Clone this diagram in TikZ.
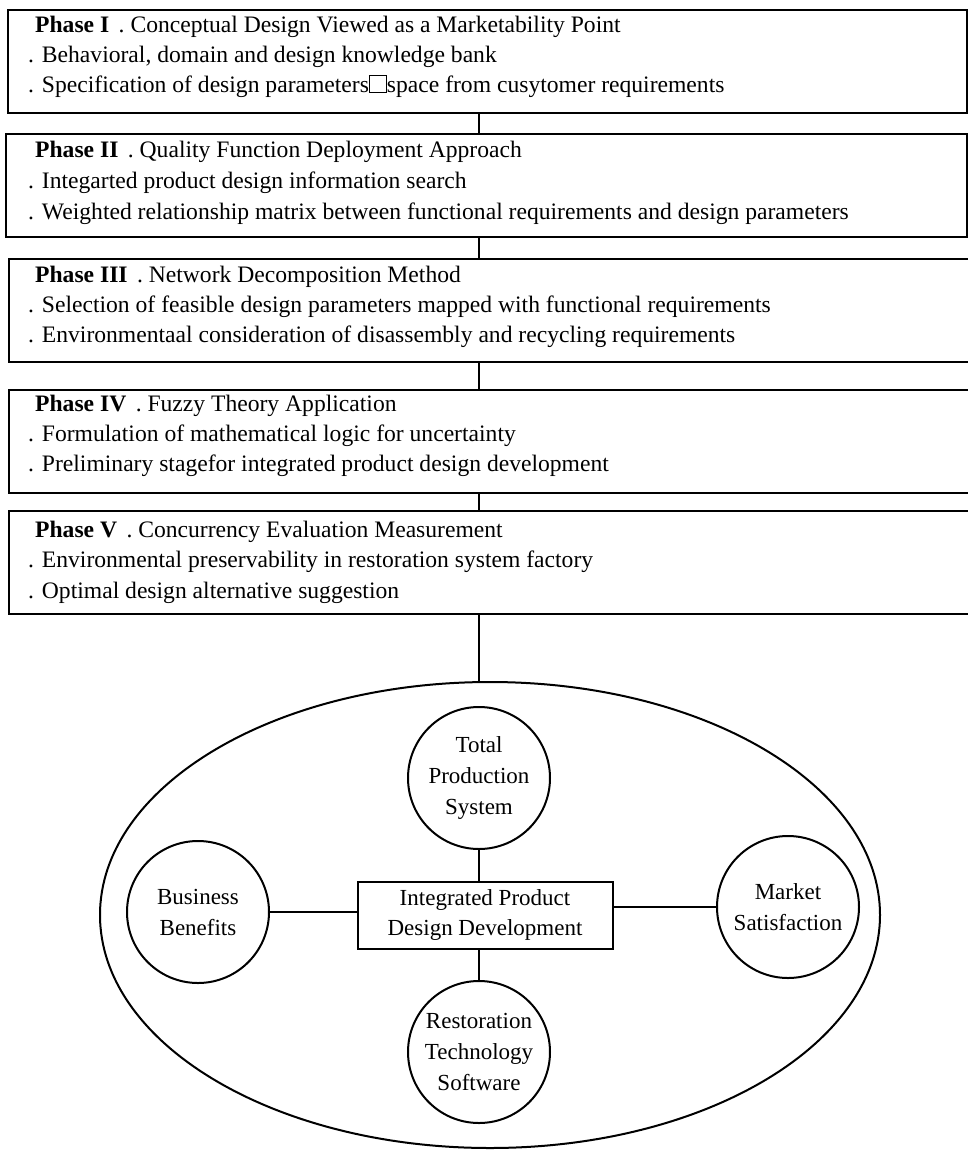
\documentclass[tikz,border=0pt]{standalone}
\usepackage{fontspec}
\setmainfont{Liberation Serif}
\usetikzlibrary{shapes.geometric}
\newcommand{\missingglyph}{{\fboxsep=0pt\fboxrule=1pt\fbox{\rule{0pt}{16pt}\hspace{16pt}}}}
\newcommand{\phasegap}{\hspace{0.4em}}
\begin{document}
\begin{tikzpicture}[x=1pt,y=-1pt,
  phasebox/.style={draw, line width=2.4pt, minimum height=103pt, inner sep=0pt, anchor=north west},
  txt/.style={anchor=base west, inner sep=0pt, font=\fontsize{23.6}{30}\selectfont},
  circ/.style={draw, circle, line width=2pt, minimum size=142pt, inner sep=0pt, align=center, font=\fontsize{23}{31}\selectfont},
  centre/.style={draw, rectangle, line width=2pt, minimum width=255pt, minimum height=67pt, inner sep=0pt, align=center, font=\fontsize{23}{30}\selectfont},
  link/.style={line width=2.2pt}]
\useasboundingbox (0,0) rectangle (968,1152);
\clip (0,0) rectangle (968,1152);

% phase boxes
\node[phasebox, minimum width=959pt] (b1) at (7,9) {};
\node[phasebox, minimum width=961pt] (b2) at (5,133) {};
\node[phasebox, minimum width=990pt] (b3) at (8,258) {};
\node[phasebox, minimum width=990pt] (b4) at (8,389) {};
\node[phasebox, minimum width=990pt] (b5) at (8,510) {};

% texts
\node[txt] (t1a) at (35,32) {\textbf{Phase I}\phasegap. Conceptual Design Viewed as a Marketability Point};
\node[txt] (t1b) at (28,62) {. Behavioral, domain and design knowledge bank};
\node[txt] (t1c) at (28,92) {. Specification of design parameters\missingglyph space from cusytomer requirements};

\node[txt] (t2a) at (35,157) {\textbf{Phase II}\phasegap. Quality Function Deployment Approach};
\node[txt] (t2b) at (28,188) {. Integarted product design information search};
\node[txt] (t2c) at (28,219) {. Weighted relationship matrix between functional requirements and design parameters};

\node[txt] (t3a) at (35,282) {\textbf{Phase III}\phasegap. Network Decomposition Method};
\node[txt] (t3b) at (28,312) {. Selection of feasible design parameters mapped with functional requirements};
\node[txt] (t3c) at (28,342) {. Environmentaal consideration of disassembly and recycling requirements};

\node[txt] (t4a) at (35,411) {\textbf{Phase IV}\phasegap. Fuzzy Theory Application};
\node[txt] (t4b) at (28,441) {. Formulation of mathematical logic for uncertainty};
\node[txt] (t4c) at (28,471) {. Preliminary stagefor integrated product design development};

\node[txt] (t5a) at (35,537) {\textbf{Phase V}\phasegap. Concurrency Evaluation Measurement};
\node[txt] (t5b) at (28,567) {. Environmental preservability in restoration system factory};
\node[txt] (t5c) at (28,598) {. Optimal design alternative suggestion};

% lower part
\node[draw, ellipse, line width=2pt, minimum width=780pt, minimum height=466pt, inner sep=0pt] (ell) at (490,915) {};
\node[circ] (tot) at (479,778) {Total\\Production\\System};
\node[circ] (bus) at (198,912) {Business\\Benefits};
\node[circ] (mkt) at (788,907) {Market\\Satisfaction};
\node[circ] (res) at (479,1052) {Restoration\\Technology\\Software};
\node[centre] (ipd) at (485,915) {Integrated Product\\Design Development};

% connectors
\draw[link] (b1.south -| tot) -- (b2.north -| tot);
\draw[link] (b2.south -| tot) -- (b3.north -| tot);
\draw[link] (b3.south -| tot) -- (b4.north -| tot);
\draw[link] (b4.south -| tot) -- (b5.north -| tot);
\draw[link] (b5.south -| tot) -- (tot |- ell.north);
\draw[link] (tot.south) -- (ipd.north -| tot);
\draw[link] (ipd.south -| res) -- (res.north);
\draw[link] (bus.east) -- (bus.east -| ipd.west);
\draw[link] (ipd.east |- mkt.west) -- (mkt.west);
\end{tikzpicture}
\end{document}
